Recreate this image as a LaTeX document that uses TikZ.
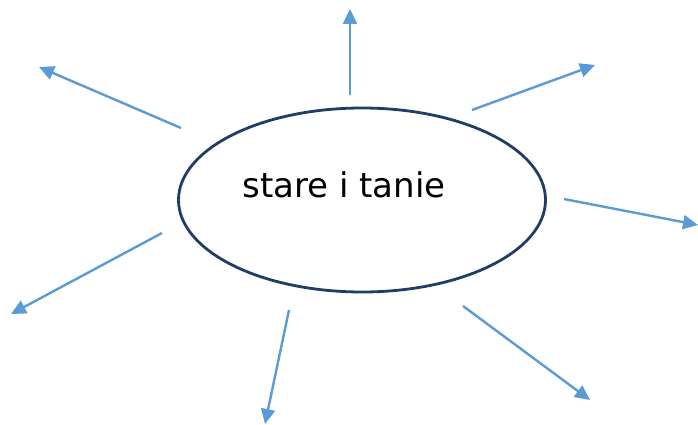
\documentclass[tikz,border=0pt]{standalone}
\usepackage{fontspec}
\setmainfont{DejaVu Sans}
\usetikzlibrary{arrows.meta,shapes.geometric}
\definecolor{ringblue}{HTML}{1F3E66}
\definecolor{arrowblue}{HTML}{5B9BD5}
\tikzset{
  ray/.style={draw=arrowblue, line width=2.4pt, -{Triangle[length=15pt,width=14pt]}},
  hub/.style={draw=ringblue, line width=2.8pt, ellipse, minimum width=367pt, minimum height=184pt, inner sep=0pt}
}
\begin{document}
\begin{tikzpicture}[x=1pt,y=-1pt]
\useasboundingbox (0,0) rectangle (698,425);
\node[hub] (c) at (362,200) {};
\node (t) at (344,185) {\fontsize{34}{40}\selectfont stare i tanie};
\coordinate (s1) at (350,95);  \coordinate (e1) at (350,9);
\coordinate (s2) at (472,110); \coordinate (e2) at (595,65);
\coordinate (s3) at (564,199); \coordinate (e3) at (698,225);
\coordinate (s4) at (463,306); \coordinate (e4) at (590,400);
\coordinate (s5) at (289,310); \coordinate (e5) at (265,424);
\coordinate (s6) at (162,233); \coordinate (e6) at (11,314);
\coordinate (s7) at (181,128); \coordinate (e7) at (39,67);
\foreach \i in {1,...,7} {\draw[ray] (s\i) -- (e\i);}
\end{tikzpicture}
\end{document}
